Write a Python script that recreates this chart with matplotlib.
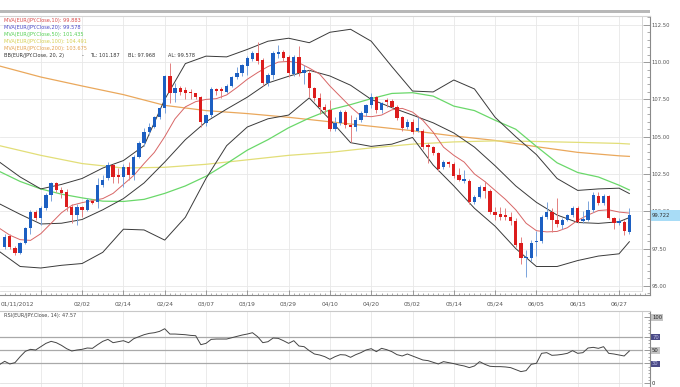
import numpy as np
import matplotlib
matplotlib.use("Agg")
import matplotlib.pyplot as plt
from matplotlib.patches import Rectangle
from matplotlib.ticker import MultipleLocator, FixedLocator
import matplotlib.transforms as mtrans

# ---- data (EUR/JPY daily, candle index 0 = 01/11/2012) ----
first_idx = 1
opens = [97.59, 98.34, 97.54, 97.23, 97.86, 98.86, 99.97, 99.53, 100.20, 101.09,
         101.88, 101.43, 101.31, 100.31, 99.75, 100.27, 100.09, 100.71, 100.64, 101.76,
         102.21, 103.10, 102.43, 102.32, 102.99, 102.43, 103.66, 104.56, 105.34, 105.67,
         106.30, 106.90, 109.07, 107.91, 108.24, 108.13, 108.02, 107.91, 107.68, 105.90,
         106.45, 108.18, 108.18, 108.02, 108.40, 109.02, 109.25, 109.74, 110.19, 110.63,
         110.14, 108.58, 109.14, 110.54, 110.70, 110.36, 109.20, 110.36, 109.25, 109.25,
         108.24, 107.57, 107.01, 106.79, 105.50, 105.90, 106.68, 105.78, 105.63, 106.12,
         106.57, 107.12, 107.64, 106.79, 107.46, 107.41, 107.01, 106.30, 105.63, 106.01,
         105.40, 105.40, 104.44, 104.29, 103.89, 102.95, 103.32, 103.17, 102.43, 102.05,
         102.05, 100.64, 100.98, 101.65, 101.38, 99.97, 99.82, 99.75, 99.64, 99.37,
         97.86, 96.85, 96.85, 97.92, 98.03, 99.60, 99.97, 99.42, 99.08, 99.42,
         99.77, 100.20, 99.35, 99.42, 100.09, 101.03, 100.58, 101.03, 99.53, 99.24,
         99.30, 98.63]
highs = [98.45, 98.50, 97.65, 97.95, 98.95, 100.10, 100.10, 100.35, 101.20, 101.95,
         101.95, 101.60, 101.50, 100.50, 100.50, 100.35, 100.90, 100.80, 102.20, 102.40,
         103.30, 103.20, 102.90, 103.20, 103.30, 103.80, 104.70, 105.60, 105.90, 106.40,
         107.00, 109.15, 109.92, 108.60, 108.40, 108.30, 108.20, 107.95, 107.75, 106.55,
         108.35, 108.25, 108.30, 108.50, 109.10, 109.70, 109.90, 110.40, 110.75, 111.37,
         110.25, 109.30, 110.75, 111.15, 110.80, 110.50, 110.50, 111.08, 109.80, 109.50,
         108.30, 107.90, 107.20, 107.46, 106.34, 106.80, 106.80, 106.45, 106.30, 106.70,
         107.20, 107.90, 107.75, 107.35, 107.60, 107.50, 107.10, 106.40, 106.20, 106.20,
         106.30, 105.50, 104.60, 104.40, 104.00, 103.45, 103.40, 103.30, 102.90, 102.80,
         102.15, 101.10, 101.75, 102.00, 101.50, 100.30, 100.30, 100.20, 99.95, 99.55,
         98.30, 97.40, 98.05, 98.70, 99.75, 100.60, 100.20, 100.87, 99.55, 99.85,
         100.35, 100.35, 100.00, 100.70, 101.30, 101.30, 101.15, 101.10, 99.65, 99.55,
         99.45, 100.20]
lows = [97.50, 97.45, 97.10, 97.15, 97.80, 98.50, 99.40, 99.08, 100.10, 100.70,
        101.30, 100.90, 100.00, 99.20, 99.10, 99.65, 100.00, 100.50, 100.20, 101.60,
        102.10, 101.90, 101.90, 101.60, 102.10, 102.10, 103.60, 104.40, 105.10, 105.60,
        106.20, 106.60, 107.24, 107.35, 107.80, 107.50, 107.55, 107.50, 105.67, 105.70,
        106.30, 107.80, 107.60, 107.90, 108.30, 108.90, 109.10, 109.14, 110.10, 109.90,
        108.40, 108.40, 108.90, 110.30, 110.10, 109.00, 109.10, 109.10, 108.50, 107.64,
        107.40, 106.50, 106.50, 105.40, 105.40, 105.80, 105.60, 104.66, 105.40, 106.00,
        106.40, 106.90, 106.60, 106.60, 107.00, 106.90, 106.10, 105.40, 105.50, 105.20,
        105.30, 104.20, 103.24, 103.80, 102.70, 102.85, 103.00, 102.25, 102.00, 101.90,
        100.50, 100.50, 100.90, 100.90, 99.85, 99.40, 99.40, 99.40, 99.10, 97.60,
        96.50, 95.62, 96.70, 97.00, 97.86, 99.50, 98.60, 98.95, 98.80, 99.35,
        99.60, 99.20, 99.20, 99.35, 99.95, 100.40, 100.45, 99.50, 98.80, 99.10,
        98.40, 98.50]
closes = [98.30, 97.59, 97.23, 97.86, 98.86, 99.97, 99.53, 100.20, 101.09, 101.88,
          101.43, 101.25, 100.31, 99.75, 100.31, 100.09, 100.76, 100.58, 101.76, 102.10,
          103.10, 102.32, 102.32, 102.99, 102.43, 103.66, 104.60, 105.34, 105.67, 106.30,
          106.90, 109.07, 107.91, 108.24, 108.02, 107.95, 107.91, 107.68, 106.01, 106.45,
          108.18, 108.08, 108.08, 108.40, 109.02, 109.25, 109.81, 110.25, 110.63, 110.09,
          108.58, 109.14, 110.59, 110.70, 110.25, 109.25, 110.36, 109.25, 109.47, 108.24,
          107.57, 107.01, 106.79, 105.50, 105.90, 106.68, 105.78, 105.63, 106.12, 106.57,
          107.12, 107.64, 106.79, 107.24, 107.35, 107.01, 106.23, 105.56, 106.01, 105.34,
          105.56, 104.33, 104.29, 103.89, 102.82, 103.32, 103.15, 102.37, 102.10, 102.14,
          100.64, 100.98, 101.65, 101.38, 99.97, 99.75, 99.64, 99.64, 99.37, 97.74,
          96.85, 96.96, 97.90, 98.03, 99.60, 99.97, 99.42, 99.15, 99.42, 99.77,
          100.20, 99.30, 99.46, 100.09, 101.09, 100.54, 101.03, 99.53, 99.20, 99.37,
          98.70, 99.72]

# moving averages / bands
ma10_idx = list(range(0, 123, 2))
ma10 = [98.86, 98.40, 98.10, 98.05, 98.50, 99.20, 99.90, 100.40, 100.58, 100.72,
        100.85, 101.20, 101.80, 102.40, 103.20, 103.95, 105.00, 106.20, 107.00, 107.35,
        107.50, 107.55, 107.80, 108.30, 108.85, 109.30, 109.70, 110.00, 110.05, 109.95,
        109.60, 109.20, 108.40, 107.70, 107.00, 106.40, 106.34, 106.45, 106.80, 106.90,
        106.65, 106.10, 105.30, 104.30, 103.75, 103.30, 102.50, 102.00, 101.40, 100.80,
        100.10, 99.20, 98.70, 98.62, 98.65, 98.90, 99.40, 99.75, 100.05, 100.10,
        99.95, 99.88]

band_idx = list(range(0, 121, 4)) + [122]
bb_upper = [103.30, 102.30, 101.50, 101.80, 102.20, 102.90, 103.40, 104.40, 107.50, 109.90,
            110.40, 110.35, 110.85, 111.40, 111.60, 111.30, 112.00, 112.20, 111.40, 109.70,
            108.06, 108.00, 108.80, 108.20, 106.30, 105.00, 103.80, 102.20, 101.40, 101.50,
            101.55, 101.19]
bb_mid = [100.50, 99.80, 99.15, 99.20, 99.45, 100.10, 100.85, 101.90, 103.30, 104.80,
          106.00, 106.85, 107.65, 108.60, 109.05, 109.45, 109.07, 108.45, 107.50, 106.95,
          106.45, 105.93, 105.25, 104.30, 103.05, 101.70, 100.60, 99.75, 99.25, 99.19,
          99.30, 99.58]
bb_lower = [97.30, 96.30, 96.20, 96.38, 96.50, 97.25, 98.80, 98.75, 98.07, 99.60,
            102.20, 104.40, 105.65, 106.20, 106.45, 107.60, 106.15, 104.60, 104.35, 104.50,
            104.95, 103.10, 101.70, 100.20, 99.00, 97.50, 96.30, 96.30, 96.70, 97.00,
            97.15, 97.96]
ma50 = [102.67, 102.00, 101.50, 101.15, 100.90, 100.68, 100.66, 100.80, 101.20, 101.70,
        102.35, 103.20, 104.10, 104.80, 105.60, 106.25, 106.80, 107.15, 107.55, 107.90,
        107.95, 107.72, 107.05, 106.75, 106.10, 105.50, 104.35, 103.25, 102.60, 102.30,
        101.75, 101.43]

long_idx = list(range(0, 121, 8)) + [122]
ma100 = [104.40, 103.75, 103.20, 102.90, 102.95, 103.15, 103.45, 103.75, 103.95, 104.25,
         104.50, 104.65, 104.72, 104.68, 104.62, 104.55, 104.51]
ma200 = [109.74, 109.00, 108.40, 107.82, 107.10, 106.75, 106.55, 106.30, 106.00, 105.70,
         105.40, 105.05, 104.75, 104.33, 103.95, 103.72, 103.68]

rsi_idx = list(range(0, 123))
rsi = [28, 33, 29, 31, 40, 48, 51, 50, 55, 60, 63, 61, 57, 52, 48.5, 50, 51, 53, 52.5, 58,
       63, 66, 61, 62.5, 64, 61, 67, 70, 73, 75, 76, 78, 82, 74, 74, 73.5, 73, 72, 71.5, 58,
       60, 66, 66.5, 66.5, 66.5, 68.5, 70.5, 72.5, 74, 76, 70, 61, 62.5, 68, 67.5, 64, 60, 64, 56, 55,
       49, 44, 42.5, 40, 36, 40, 43, 42.5, 39, 43, 46, 50, 52, 47.5, 52.5, 50.5, 47.5, 43, 41, 44,
       41, 38, 35, 34, 31.5, 29, 32.5, 31, 29.5, 27.5, 26, 23.5, 26, 32.5, 28.5, 25.5, 25, 25, 24.5, 23.5,
       20.5, 17.5, 19, 28.5, 30, 45, 46, 42, 42.5, 43.5, 45, 49, 45, 46, 53, 54, 52.5, 55, 45, 44,
       42.5, 41, 48.5]

tick_idx = [8, 16, 24, 32, 40, 48, 56, 64, 72, 80, 88, 96, 104, 112, 120]
tick_lbl = ['', '02/02', '02/14', '02/24', '03/07', '03/19', '03/29', '04/10', '04/20',
            '05/02', '05/14', '05/24', '06/05', '06/15', '06/27']

legend = [("MVA(EUR/JPY.Close,10): 99.883", '#d94a4a'),
          ("MVA(EUR/JPY.Close,20): 99.578", '#4a4ac8'),
          ("MVA(EUR/JPY.Close,50): 101.435", '#55d055'),
          ("MVA(EUR/JPY.Close,100): 104.491", '#d6cf52'),
          ("MVA(EUR/JPY.Close,200): 103.675", '#e3a24f')]
bb_legend = ["BB(EUR/JPY.Close, 20, 2)", "-", "TL: 101.187", "BL: 97.968", "AL: 99.578"]
last_price = 99.722

# ---- layout (pixel based) ----
W, H = 680, 387
def fx(px):
    return px / W
def fy(py):
    return 1 - py / H

fig = plt.figure(figsize=(6.8, 3.87), dpi=100)
fig.patch.set_facecolor('white')

ax = fig.add_axes([0, fy(295), fx(650), (295 - 16) / H])
rx = fig.add_axes([0, 0, fx(650), (387 - 310.7) / H])

x_lo, x_hi = 0.097, 126.0
x_box = 124.45  # inner plot frame

# top grey bar
fig.add_artist(Rectangle((0, fy(12.5)), fx(650), 2.5 / H, transform=fig.transFigure,
                         color='#b8b8b8', lw=0))

# ---- main price panel ----
ax.set_xlim(x_lo, x_hi)
ax.set_ylim(94.39, 113.09)
ax.spines['left'].set_visible(False)
ax.spines['top'].set_color('#d4d4d4')
ax.spines['right'].set_color('#8a8a8a')
ax.spines['bottom'].set_color('#8a8a8a')
for s in ['top', 'right', 'bottom']:
    ax.spines[s].set_linewidth(0.8)

ax.yaxis.tick_right()
ax.yaxis.set_major_locator(MultipleLocator(2.5))
ax.yaxis.set_minor_locator(MultipleLocator(0.5))
ax.yaxis.set_major_formatter(plt.FormatStrFormatter('%.2f'))
ax.tick_params(axis='y', which='major', direction='in', length=5, width=0.6,
               color='#8a8a8a', labelsize=3.8, labelcolor='#555555', pad=1.2)
ax.tick_params(axis='y', which='minor', direction='in', length=2, width=0.5, color='#8a8a8a')

ax.xaxis.set_major_locator(FixedLocator(tick_idx))
ax.set_xticklabels(tick_lbl)
ax.xaxis.set_minor_locator(MultipleLocator(1))
ax.tick_params(axis='x', which='major', direction='in', length=3.8, width=0.6,
               color='#8a8a8a', labelsize=4.2, labelcolor='#555555', pad=4.8)
ax.tick_params(axis='x', which='minor', direction='in', length=1.4, width=0.5, color='#8a8a8a')
fig.text(fx(1), fy(304), '01/11/2012', ha='left', va='center', fontsize=4.2, color='#555555')

# grid
for v in np.arange(95, 113, 2.5):
    ax.plot([x_lo, x_box], [v, v], color='#e8e8e8', lw=0.6, zorder=0)
for t in tick_idx:
    ax.plot([t, t], [94.68, 113.09], color='#e8e8e8', lw=0.6, zorder=0)
ax.plot([x_box, x_box], [94.68, 113.09], color='#d4d4d4', lw=0.7, zorder=0)
ax.plot([x_lo, x_box], [94.68, 94.68], color='#dcdcdc', lw=0.6, zorder=0)

# indicator lines
ax.plot(long_idx, ma200, color='#eaa85c', lw=0.9, zorder=2)
ax.plot(long_idx, ma100, color='#e2de78', lw=0.9, zorder=2)
ax.plot(band_idx, ma50, color='#6ad86a', lw=0.9, zorder=2)
ax.plot(band_idx, bb_upper, color='#3a3a3a', lw=0.7, zorder=2)
ax.plot(band_idx, bb_mid, color='#3a3a3a', lw=0.7, zorder=2)
ax.plot(band_idx, bb_lower, color='#3a3a3a', lw=0.7, zorder=2)
ax.plot(ma10_idx, ma10, color='#d86666', lw=0.7, zorder=2)

# candles
xs = np.arange(first_idx, first_idx + len(closes))
o = np.array(opens); c = np.array(closes)
up = c >= o
body_lo = np.minimum(o, c)
body_h = np.maximum(np.abs(c - o), 0.06)
ax.vlines(xs[up], np.array(lows)[up], np.array(highs)[up], colors='#7aa4dc', lw=0.7, zorder=3)
ax.vlines(xs[~up], np.array(lows)[~up], np.array(highs)[~up], colors='#e48080', lw=0.7, zorder=3)
ax.bar(xs[up], body_h[up], bottom=body_lo[up], width=0.64, color='#1c5fc2', lw=0, zorder=4)
ax.bar(xs[~up], body_h[~up], bottom=body_lo[~up], width=0.64, color='#dc1c1c', lw=0, zorder=4)

# last price tag
blend = mtrans.blended_transform_factory(ax.transAxes, ax.transData)
ax.add_patch(Rectangle((651 / 650, last_price - 0.39), 29 / 650, 0.78, transform=blend,
                       color='#a8dcf6', lw=0, clip_on=False, zorder=10))
ax.text(652 / 650, last_price, f'{last_price:.3f}', transform=blend, ha='left', va='center',
        fontsize=3.8, color='#333333', clip_on=False, zorder=11)

# legend
for k, (txt, col) in enumerate(legend):
    fig.text(fx(4), fy(20.7 + 7 * k), txt, ha='left', va='center', fontsize=3.6, color=col)
for txt, px in zip(bb_legend, [4, 82, 90, 128, 168]):
    fig.text(fx(px), fy(55.7), txt, ha='left', va='center', fontsize=3.6, color='#333333')

# ---- RSI panel ----
rx.set_xlim(x_lo, x_hi)
rx.set_ylim(-5.64, 109.1)
rx.spines['left'].set_visible(False)
rx.spines['bottom'].set_visible(False)
rx.spines['top'].set_color('#c8c8c8')
rx.spines['right'].set_color('#8a8a8a')
rx.spines['top'].set_linewidth(0.8)
rx.spines['right'].set_linewidth(0.8)
rx.set_xticks([])
rx.yaxis.tick_right()
rx.set_yticks([0, 30, 50, 70, 100])
rx.set_yticklabels(['0', '30', '50', '70', '100'])
rx.yaxis.set_minor_locator(MultipleLocator(5))
rx.tick_params(axis='y', which='major', direction='in', length=4, width=0.6,
               color='#8a8a8a', labelsize=3.8, labelcolor='#222222', pad=1.5)
rx.tick_params(axis='y', which='minor', direction='in', length=1.6, width=0.5, color='#8a8a8a')
box_col = {'100': '#c4c4c4', '70': '#4a4a86', '50': '#c4c4c4', '30': '#4a4a86', '0': 'none'}
for lab in rx.get_yticklabels():
    fc = box_col[lab.get_text()]
    if fc != 'none':
        lab.set_bbox(dict(boxstyle='square,pad=0.15', fc=fc, ec='none'))
    if fc == '#4a4a86':
        lab.set_color('#c0c0e8')

for t in tick_idx:
    rx.plot([t, t], [-6, 109.1], color='#e8e8e8', lw=0.6, zorder=0)
rx.plot([x_box, x_box], [-6, 109.1], color='#d4d4d4', lw=0.7, zorder=0)
for v in [30, 50, 70]:
    rx.plot([x_lo, x_box], [v, v], color='#a9a9a9', lw=0.9, zorder=1)
rx.plot([x_lo, x_box], [0, 0], color='#e0e0e0', lw=0.6, zorder=0)
rx.plot(rsi_idx, rsi, color='#454545', lw=0.7, zorder=3)
fig.text(fx(4), fy(315.7), 'RSI(EUR/JPY.Close, 14): 47.57', ha='left', va='center',
         fontsize=3.6, color='#444444')

fig.savefig('out.png', dpi=100)
